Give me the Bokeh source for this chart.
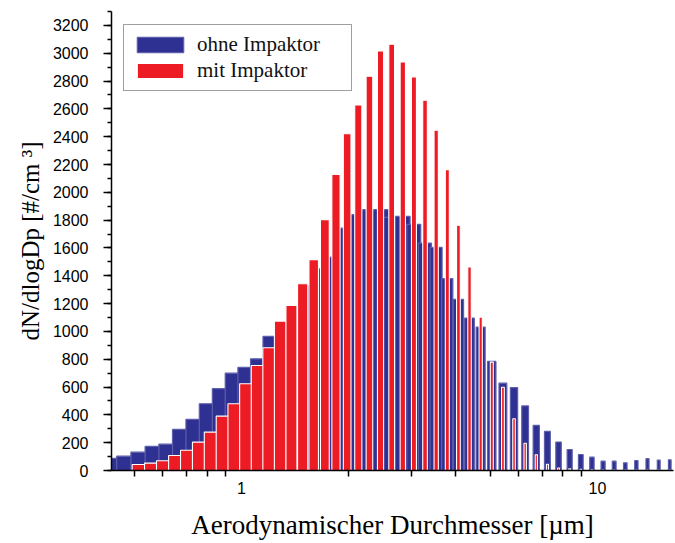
from bokeh.plotting import figure
from bokeh.models import (Range1d, FixedTicker, BasicTickFormatter, SingleIntervalTicker,
                          Legend, LegendItem, ColumnDataSource, Title)
from bokeh.embed import file_html
from bokeh.resources import INLINE

# Aerodynamic diameter channels [µm]
diam = [0.542, 0.583, 0.626, 0.673, 0.723, 0.777, 0.835, 0.898, 0.965, 1.037,
        1.114, 1.197, 1.286, 1.382, 1.486, 1.596, 1.715, 1.843, 1.981, 2.129,
        2.288, 2.458, 2.642, 2.839, 3.051, 3.278, 3.523, 3.786, 4.068, 4.371,
        4.698, 5.048, 5.425, 5.829, 6.264, 6.732, 7.234, 7.774, 8.354, 8.977,
        9.647, 10.37, 11.14, 11.97, 12.86, 13.82, 14.86, 15.96]

# dN/dlogDp without impactor (blue)
ohne = [88, 103, 132, 173, 189, 295, 367, 480, 588, 700,
        741, 803, 964, 1060, 1180, 1330, 1450, 1534, 1743, 1839,
        1875, 1875, 1820, 1827, 1770, 1635, 1604, 1379, 1230, 1096,
        1031, 784, 628, 596, 464, 324, 281, 205, 151, 115,
        96, 67, 67, 55, 72, 85, 75, 77]

# dN/dlogDp with impactor (red)
mit = [43, 53, 70, 108, 146, 204, 276, 391, 480, 624,
       755, 883, 1074, 1187, 1343, 1516, 1804, 2129, 2421, 2628,
       2834, 3016, 3065, 2937, 2830, 2662, 2446, 2163, 1763, 1463,
       1103, 779, 599, 372, 196, 113, 45, 18, 13, 8,
       5, 4, 3, 3, 3, 3, 3, 3]

series_names = ["ohne Impaktor", "mit Impaktor"]
x_major = [1, 10]
x_minor = [0.5, 0.6, 0.7, 0.8, 0.9, 2, 3, 4, 5, 6, 7, 8, 9]

# column widths (linear units, as in the original column plot)
W_OHNE = 0.274
W_MIT = 0.098

src_b = ColumnDataSource(dict(left=[d - W_OHNE / 2 for d in diam],
                              right=[d + W_OHNE / 2 for d in diam],
                              top=ohne))
src_r = ColumnDataSource(dict(left=[d - W_MIT / 2 for d in diam],
                              right=[d + W_MIT / 2 for d in diam],
                              top=mit))

p = figure(width=675, height=543, x_axis_type="log",
           x_range=Range1d(0.4313, 16.35), y_range=Range1d(0, 3300),
           output_backend="svg", toolbar_location=None,
           min_border_left=111, min_border_right=2,
           min_border_top=11, min_border_bottom=73)

p.background_fill_color = "white"
p.border_fill_color = "white"
p.outline_line_color = None
p.xgrid.visible = False
p.ygrid.visible = False

rb = p.quad(left="left", right="right", top="top", bottom=0, source=src_b,
            fill_color="#2e3192", line_color="#5d5fab", line_width=1.2)
rr = p.quad(left="left", right="right", top="top", bottom=0, source=src_r,
            fill_color="#ed1c24", line_color="#ffffff", line_width=1.1)

# x axis
xa = p.xaxis[0]
xa.ticker = FixedTicker(ticks=x_major, minor_ticks=x_minor)
xa.formatter = BasicTickFormatter()
xa.axis_line_color = "black"
xa.axis_line_width = 1.5
xa.major_tick_out = 0
xa.major_tick_in = 0
xa.minor_tick_out = 6
xa.minor_tick_in = 0
xa.minor_tick_line_color = "black"
xa.minor_tick_line_width = 1.5
xa.major_label_text_font = "Liberation Sans"
xa.major_label_text_font_size = "16px"
xa.major_label_text_color = "black"
xa.major_label_standoff = 5
xa.axis_label = "Aerodynamischer Durchmesser [µm]"
xa.axis_label_text_font = "Liberation Serif"
xa.axis_label_text_font_size = "27px"
xa.axis_label_text_font_style = "normal"
xa.axis_label_text_color = "black"
xa.axis_label_standoff = 13

# y axis
ya = p.yaxis[0]
ya.ticker = SingleIntervalTicker(interval=200, num_minor_ticks=2)
ya.axis_line_color = "black"
ya.axis_line_width = 1.5
ya.major_tick_out = 8
ya.major_tick_in = 0
ya.minor_tick_out = 4
ya.minor_tick_in = 0
ya.major_tick_line_width = 1.5
ya.minor_tick_line_width = 1.5
ya.major_label_text_font = "Liberation Sans"
ya.major_label_text_font_size = "16px"
ya.major_label_text_color = "black"
ya.major_label_standoff = 15

# y-axis title as a side title so it can be shifted along the axis
ytitle = Title(text="dN/dlogDp [#/cm ³]", align="center",
               text_font="Liberation Serif", text_font_size="25px",
               text_font_style="normal", text_color="black",
               offset=-25, standoff=12)
p.add_layout(ytitle, "left")

legend = Legend(items=[LegendItem(label=series_names[0], renderers=[rb]),
                       LegendItem(label=series_names[1], renderers=[rr])],
                location=(12, 379))
legend.padding = 7
legend.margin = 0
legend.spacing = 1
legend.glyph_width = 58
legend.glyph_height = 19
legend.label_height = 20
legend.label_width = 147
legend.label_standoff = 8
legend.label_text_font = "Liberation Serif"
legend.label_text_font_size = "21px"
legend.label_text_color = "#111111"
legend.border_line_color = "#404040"
legend.border_line_width = 1.3
legend.background_fill_color = "white"
legend.background_fill_alpha = 1
p.add_layout(legend)

open("out.html", "w").write(file_html(p, INLINE))
